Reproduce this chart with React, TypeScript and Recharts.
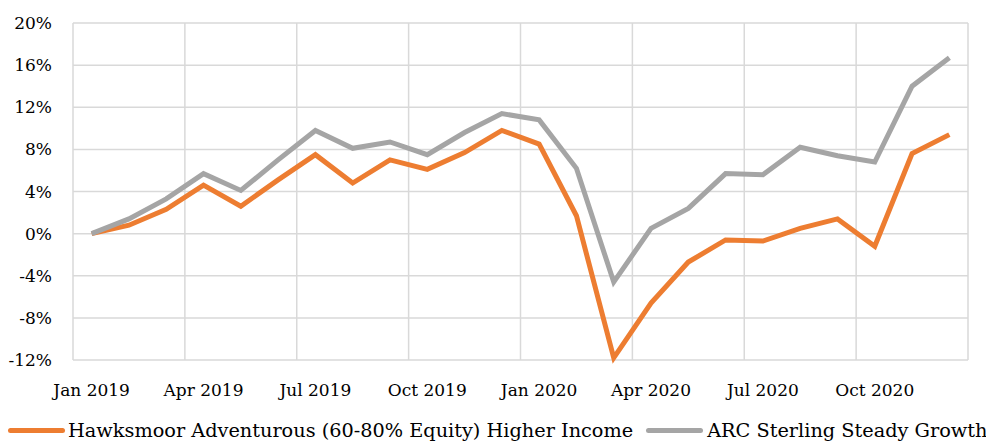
import { LineChart, Line, XAxis, YAxis, CartesianGrid, ReferenceLine, Legend } from 'recharts';

const months = [
  'Jan 2019', 'Feb 2019', 'Mar 2019', 'Apr 2019', 'May 2019', 'Jun 2019',
  'Jul 2019', 'Aug 2019', 'Sep 2019', 'Oct 2019', 'Nov 2019', 'Dec 2019',
  'Jan 2020', 'Feb 2020', 'Mar 2020', 'Apr 2020', 'May 2020', 'Jun 2020',
  'Jul 2020', 'Aug 2020', 'Sep 2020', 'Oct 2020', 'Nov 2020', 'Dec 2020',
];

const hawksmoor = [
  0, 0.8, 2.3, 4.6, 2.6, 5.1, 7.5, 4.8, 7.0, 6.1, 7.7, 9.8,
  8.5, 1.7, -11.8, -6.6, -2.7, -0.6, -0.7, 0.5, 1.4, -1.2, 7.6, 9.4,
];

const arc = [
  0, 1.4, 3.3, 5.7, 4.1, 7.0, 9.8, 8.1, 8.7, 7.5, 9.6, 11.4,
  10.8, 6.2, -4.6, 0.5, 2.4, 5.7, 5.6, 8.2, 7.4, 6.8, 14.0, 16.7,
];

const yTicks = [-12, -8, -4, 0, 4, 8, 12, 16, 20];
const xTicks = [0, 3, 6, 9, 12, 15, 18, 21];
const gridLines = [2.5, 5.5, 8.5, 11.5, 14.5, 17.5, 20.5, 23.5];

const seriesNames = {
  hawksmoor: 'Hawksmoor Adventurous (60-80% Equity) Higher Income',
  arc: 'ARC Sterling Steady Growth',
};

const ORANGE = '#ED7D31';
const GREY = '#A5A5A5';
const GRID = '#D9D9D9';
const FONT = '"DejaVu Serif", serif';

const data = months.map((m, i) => ({
  idx: i,
  month: m,
  hawksmoor: hawksmoor[i],
  arc: arc[i],
}));

const renderLegend = () => (
  <div style={{ display: 'flex', alignItems: 'center', height: 22, whiteSpace: 'nowrap', fontFamily: FONT, fontSize: 19.3, color: '#000', paddingLeft: 8 }}>
    <span style={{ display: 'inline-block', width: 57, height: 5, borderRadius: 3, background: ORANGE, marginRight: 3 }} />
    <span style={{ marginRight: 13 }}>{seriesNames.hawksmoor}</span>
    <span style={{ display: 'inline-block', width: 57, height: 5, borderRadius: 3, background: GREY, marginRight: 4 }} />
    <span>{seriesNames.arc}</span>
  </div>
);

export default function App() {
  return (
    <div style={{ position: 'absolute', left: 0, top: 0, width: 986, height: 441, overflow: 'hidden', background: '#fff' }}>
      <LineChart width={986} height={441} data={data} margin={{ top: 23, right: 18, bottom: 0, left: 0 }}>
        <CartesianGrid vertical={false} stroke={GRID} strokeWidth={1.5} />
        {gridLines.map((g) => (
          <ReferenceLine key={g} x={g} stroke={GRID} strokeWidth={1.5} />
        ))}
        <ReferenceLine x={-0.5} stroke={GRID} strokeWidth={1.5} />
        <XAxis
          dataKey="idx"
          type="number"
          domain={[-0.5, 23.5]}
          ticks={xTicks}
          tickFormatter={(v) => months[v]}
          axisLine={false}
          tickLine={false}
          tickSize={0}
          tickMargin={24}
          height={59}
          interval={0}
          tick={{ fill: '#000', fontSize: 17, fontFamily: FONT }}
        />
        <YAxis
          domain={[-12, 20]}
          ticks={yTicks}
          width={73}
          tickFormatter={(v) => `${v}%`}
          axisLine={false}
          tickLine={false}
          tickSize={0}
          tickMargin={21}
          interval={0}
          tick={{ fill: '#000', fontSize: 17, fontFamily: FONT }}
        />
        <Legend verticalAlign="bottom" align="left" height={22} content={renderLegend} wrapperStyle={{ width: 1200, left: 0 }} />
        <Line
          type="linear"
          dataKey="hawksmoor"
          name={seriesNames.hawksmoor}
          stroke={ORANGE}
          strokeWidth={5}
          dot={false}
          isAnimationActive={false}
        />
        <Line
          type="linear"
          dataKey="arc"
          name={seriesNames.arc}
          stroke={GREY}
          strokeWidth={5}
          dot={false}
          isAnimationActive={false}
        />
      </LineChart>
    </div>
  );
}
